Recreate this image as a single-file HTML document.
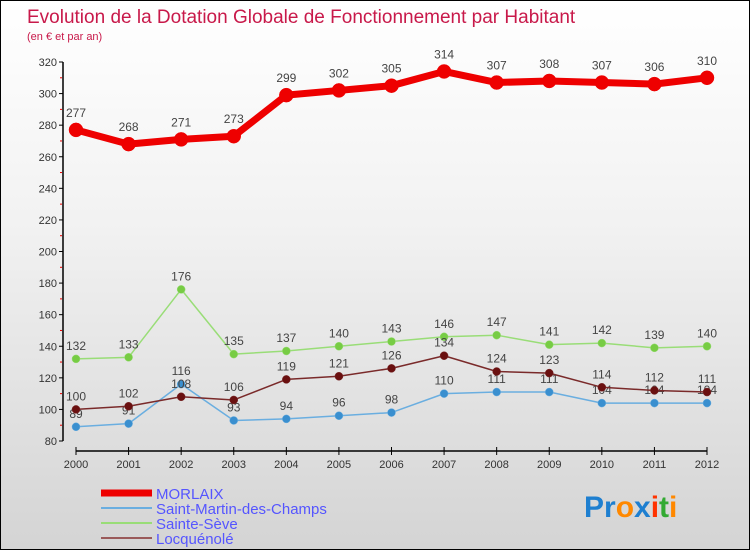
<!DOCTYPE html>
<html><head><meta charset="utf-8"><style>
body{margin:0}
#c{width:750px;height:550px;position:relative;background:linear-gradient(#ffffff 0%,#f2f2f2 40%,#d4d4d4 100%);box-sizing:border-box;border:1px solid #000;overflow:hidden;font-family:"Liberation Sans",sans-serif}
</style></head><body>
<div id="c">
<svg id="s" width="750" height="550" style="position:absolute;left:0;top:0">
<text x="26" y="22" font-size="19" fill="#c8194a">Evolution de la Dotation Globale de Fonctionnement par Habitant</text>
<text x="26" y="39" font-size="11" fill="#c8194a">(en € et par an)</text>
<g id="axes"></g><g id="series"></g><g id="legend"></g>
<text x="583" y="516" font-size="30" font-weight="bold"><tspan fill="#1e7fd0">Pr</tspan><tspan fill="#ff8800">o</tspan><tspan fill="#1e7fd0">x</tspan><tspan fill="#ff3300">i</tspan><tspan fill="#33aa33">t</tspan><tspan fill="#ff8800">i</tspan></text>
</svg>
</div>
<script>
const years=[2000,2001,2002,2003,2004,2005,2006,2007,2008,2009,2010,2011,2012];
const yTicks=[80,100,120,140,160,180,200,220,240,260,280,300,320];
const morlaix=[277,268,271,273,299,302,305,314,307,308,307,306,310];
const smc=[89,91,116,93,94,96,98,110,111,111,104,104,104];
const sseve=[132,133,176,135,137,140,143,146,147,141,142,139,140];
const locq=[100,102,108,106,119,121,126,134,124,123,114,112,111];
const legendNames=["MORLAIX","Saint-Martin-des-Champs","Sainte-Sève","Locquénolé"];
const NS="http://www.w3.org/2000/svg";
function X(i){return 75+i*(706-75)/(years.length-1);}
function Y(v){return 440-(v-80)*(440-61)/240;}
function mk(t,a,p){const e=document.createElementNS(NS,t);for(const k in a)e.setAttribute(k,a[k]);p.appendChild(e);return e;}
const ax=document.getElementById('axes');
let l=mk('line',{x1:62,y1:Y(320),x2:62,y2:Y(80),stroke:'#000','stroke-width':1.5},ax);


yTicks.forEach((v,k)=>{
 let t=mk('line',{x1:58,y1:Y(v),x2:62,y2:Y(v),stroke:'#000'},ax);
 
 
 if(k<yTicks.length-1){
 let m=mk('line',{x1:59,y1:Y(v+10),x2:61,y2:Y(v+10),stroke:'#e00'},ax);
 
 
 }
 let tx=mk('text',{x:56,y:Y(v)+4,'font-size':11,'text-anchor':'end',fill:'#333'},ax);
 tx.textContent=v;
 
 
});
l=mk('line',{x1:X(0),y1:450,x2:X(12),y2:450,stroke:'#000','stroke-width':1.5},ax);


years.forEach((y,i)=>{
 let t=mk('line',{x1:X(i),y1:446,x2:X(i),y2:454,stroke:'#000'},ax);
 
 
 let tx=mk('text',{x:X(i),y:467,'font-size':11,'text-anchor':'middle',fill:'#333'},ax);
 tx.textContent=y;
 
 
});
const sg=document.getElementById('series');
function series(data,color,dot,w,r,name,labOff){
 const g=mk('g',{},sg);
 
 
 const p=mk('polyline',{points:data.map((v,i)=>X(i)+','+Y(v)).join(' '),fill:'none',stroke:color,'stroke-width':w,'stroke-linejoin':'round'},g);
 
 
 data.forEach((v,i)=>{
  const c=mk('circle',{cx:X(i),cy:Y(v),r:r,fill:dot,stroke:color,'stroke-width':0.5},g);
  
  
  const t=mk('text',{x:X(i),y:Y(v)-labOff,'font-size':12,'text-anchor':'middle',fill:'#444'},g);
  t.textContent=v;
  
  
 });
}
series(smc,'#6aaee0','#3a8fcf',1.5,4,'saint-martin-series',9);
series(sseve,'#99dd77','#77cc44',1.5,4,'sainte-seve-series',9);
series(locq,'#7a2a2a','#6a1010',1.5,4,'locquenole-series',9);
series(morlaix,'#ee0000','#ee0000',7,7,'morlaix-series',13);
const lg=document.getElementById('legend');
const lc=['#ee0000','#6aaee0','#99dd77','#9a5a5a'],lw=[7,2,2,2];
legendNames.forEach((n,i)=>{
 const y=492+i*15;
 const g=mk('g',{},lg);
 
 
 mk('line',{x1:100,y1:y,x2:151,y2:y,stroke:lc[i],'stroke-width':lw[i]},g);
 const t=mk('text',{x:155,y:y+6,'font-size':15,fill:'#5555ff'},g);
 t.textContent=n;
});
</script>
</body></html>
